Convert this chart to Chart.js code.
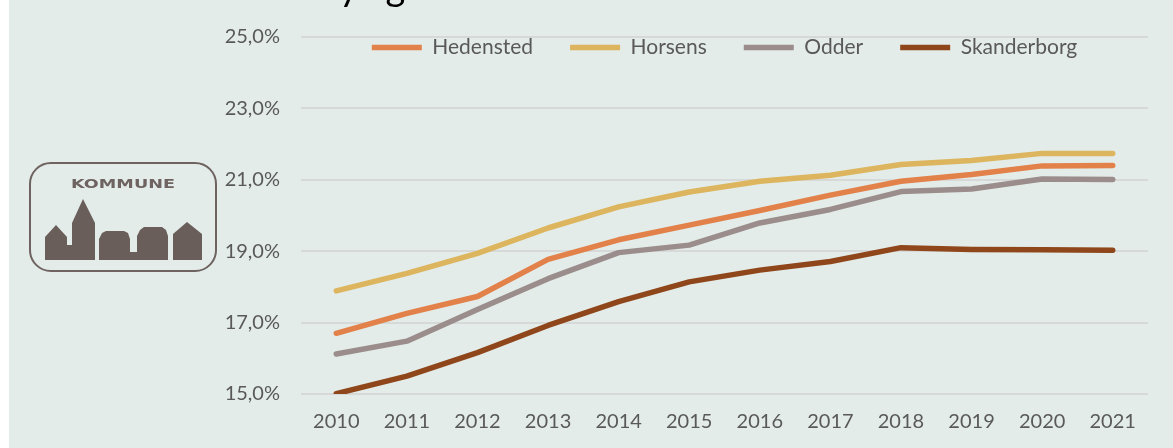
<!DOCTYPE html>
<html>
<head>
<meta charset="utf-8">
<script src="https://cdn.jsdelivr.net/npm/chart.js@4/dist/chart.umd.min.js"></script>
<style>
  html, body { margin: 0; padding: 0; background: #fff; overflow: hidden; }
  #wrap { position: absolute; left: 9px; top: 0; width: 1164px; height: 448px; background: #e3ece8; overflow: hidden; }
  #title { position: absolute; left: 330px; top: -34px; font: 38px Lato, sans-serif; line-height: 38px; color: #000; word-spacing: 18px; white-space: nowrap; }
  #logo { position: absolute; left: 0; top: 0; pointer-events: none; }
</style>
</head>
<body>
<div id="wrap">
  <canvas id="chart"></canvas>
  <div id="title">y g</div>
</div>
<svg id="logo" width="1173" height="448">
  <rect x="30" y="163" width="186" height="108" rx="21" ry="21" fill="none" stroke="#6e6361" stroke-width="2"/>
  <text x="71" y="188" textLength="104" lengthAdjust="spacingAndGlyphs" font-family="DejaVu Sans" font-weight="bold" font-size="13" fill="#6e6361">KOMMUNE</text>
  <g fill="#6a5e5b">
    <polygon points="45,260 45,237 56,225 67,237 67,245 72,245 72,223 83,199 95,223 95,260"/>
    <polygon points="99,260 99,239 102,233 106,231 124,231 128,233 130,239 130,252 137,252 137,236 140,230 144,227 162,227 166,230 168,236 168,260"/>
    <polygon points="173,260 173,234 187,222 202,234 202,260"/>
  </g>
</svg>
<script>
// Andel (%) per kommune
const years = ['2010', '2011', '2012', '2013', '2014', '2015', '2016', '2017', '2018', '2019', '2020', '2021'];
const hedensted = [16.70, 17.26, 17.73, 18.77, 19.32, 19.73, 20.14, 20.57, 20.96, 21.15, 21.39, 21.40];
const horsens = [17.89, 18.38, 18.94, 19.65, 20.24, 20.66, 20.96, 21.13, 21.43, 21.54, 21.74, 21.74];
const odder = [16.12, 16.48, 17.37, 18.23, 18.96, 19.17, 19.79, 20.17, 20.67, 20.74, 21.02, 21.01];
const skanderborg = [15.01, 15.50, 16.16, 16.92, 17.59, 18.14, 18.47, 18.71, 19.10, 19.05, 19.04, 19.03];

const seriesNames = ['Hedensted', 'Horsens', 'Odder', 'Skanderborg'];
const seriesColors = ['#e2814a', '#dcb55e', '#9a8d8b', '#8f461a'];
const seriesData = [hedensted, horsens, odder, skanderborg];

// legend only reserves 37px on top, but is drawn down into the plot
const legendOverlap = {
    id: 'legendOverlap',
    afterLayout(chart) {
        const lg = chart.legend;
        lg.bottom = lg.top + 90;
        lg.height = 90;
    }
};

const ctx = document.getElementById('chart').getContext('2d');
new Chart(ctx, {
    type: 'line',
    data: {
        labels: years,
        datasets: seriesNames.map((name, i) => ({
            label: name,
            data: seriesData[i],
            borderColor: seriesColors[i],
            backgroundColor: seriesColors[i],
            borderWidth: 5.5,
            borderCapStyle: 'round',
            borderJoinStyle: 'round',
            pointRadius: 0,
            pointStyle: 'line',
            tension: 0,
            fill: false
        }))
    },
    options: {
        responsive: true,
        maintainAspectRatio: false,
        animation: false,
        layout: { padding: { left: 200, right: 25, top: 0, bottom: 0 } },
        plugins: {
            legend: {
                position: 'top',
                fullSize: false,
                align: 'center',
                maxHeight: 37,
                labels: {
                    usePointStyle: true,
                    pointStyleWidth: 50,
                    padding: 37,
                    color: '#595959',
                    font: { family: 'Lato', size: 21 }
                }
            },
            tooltip: { enabled: false }
        },
        scales: {
            x: {
                offset: true,
                grid: { display: false },
                border: { display: false },
                ticks: { color: '#595959', font: { family: 'Lato', size: 20 }, padding: 8, maxRotation: 0 },
                afterFit(scale) { scale.height = 54; }
            },
            y: {
                min: 15,
                max: 25,
                grid: { color: '#d6d9d8', lineWidth: 2, drawTicks: false },
                border: { display: false },
                ticks: {
                    stepSize: 2,
                    color: '#595959',
                    font: { family: 'Lato', size: 20 },
                    padding: 21,
                    callback: v => v.toFixed(1).replace('.', ',') + '%'
                },
                afterFit(scale) { scale.width = 92; }
            }
        }
    },
    plugins: [legendOverlap]
});
</script>
</body>
</html>
